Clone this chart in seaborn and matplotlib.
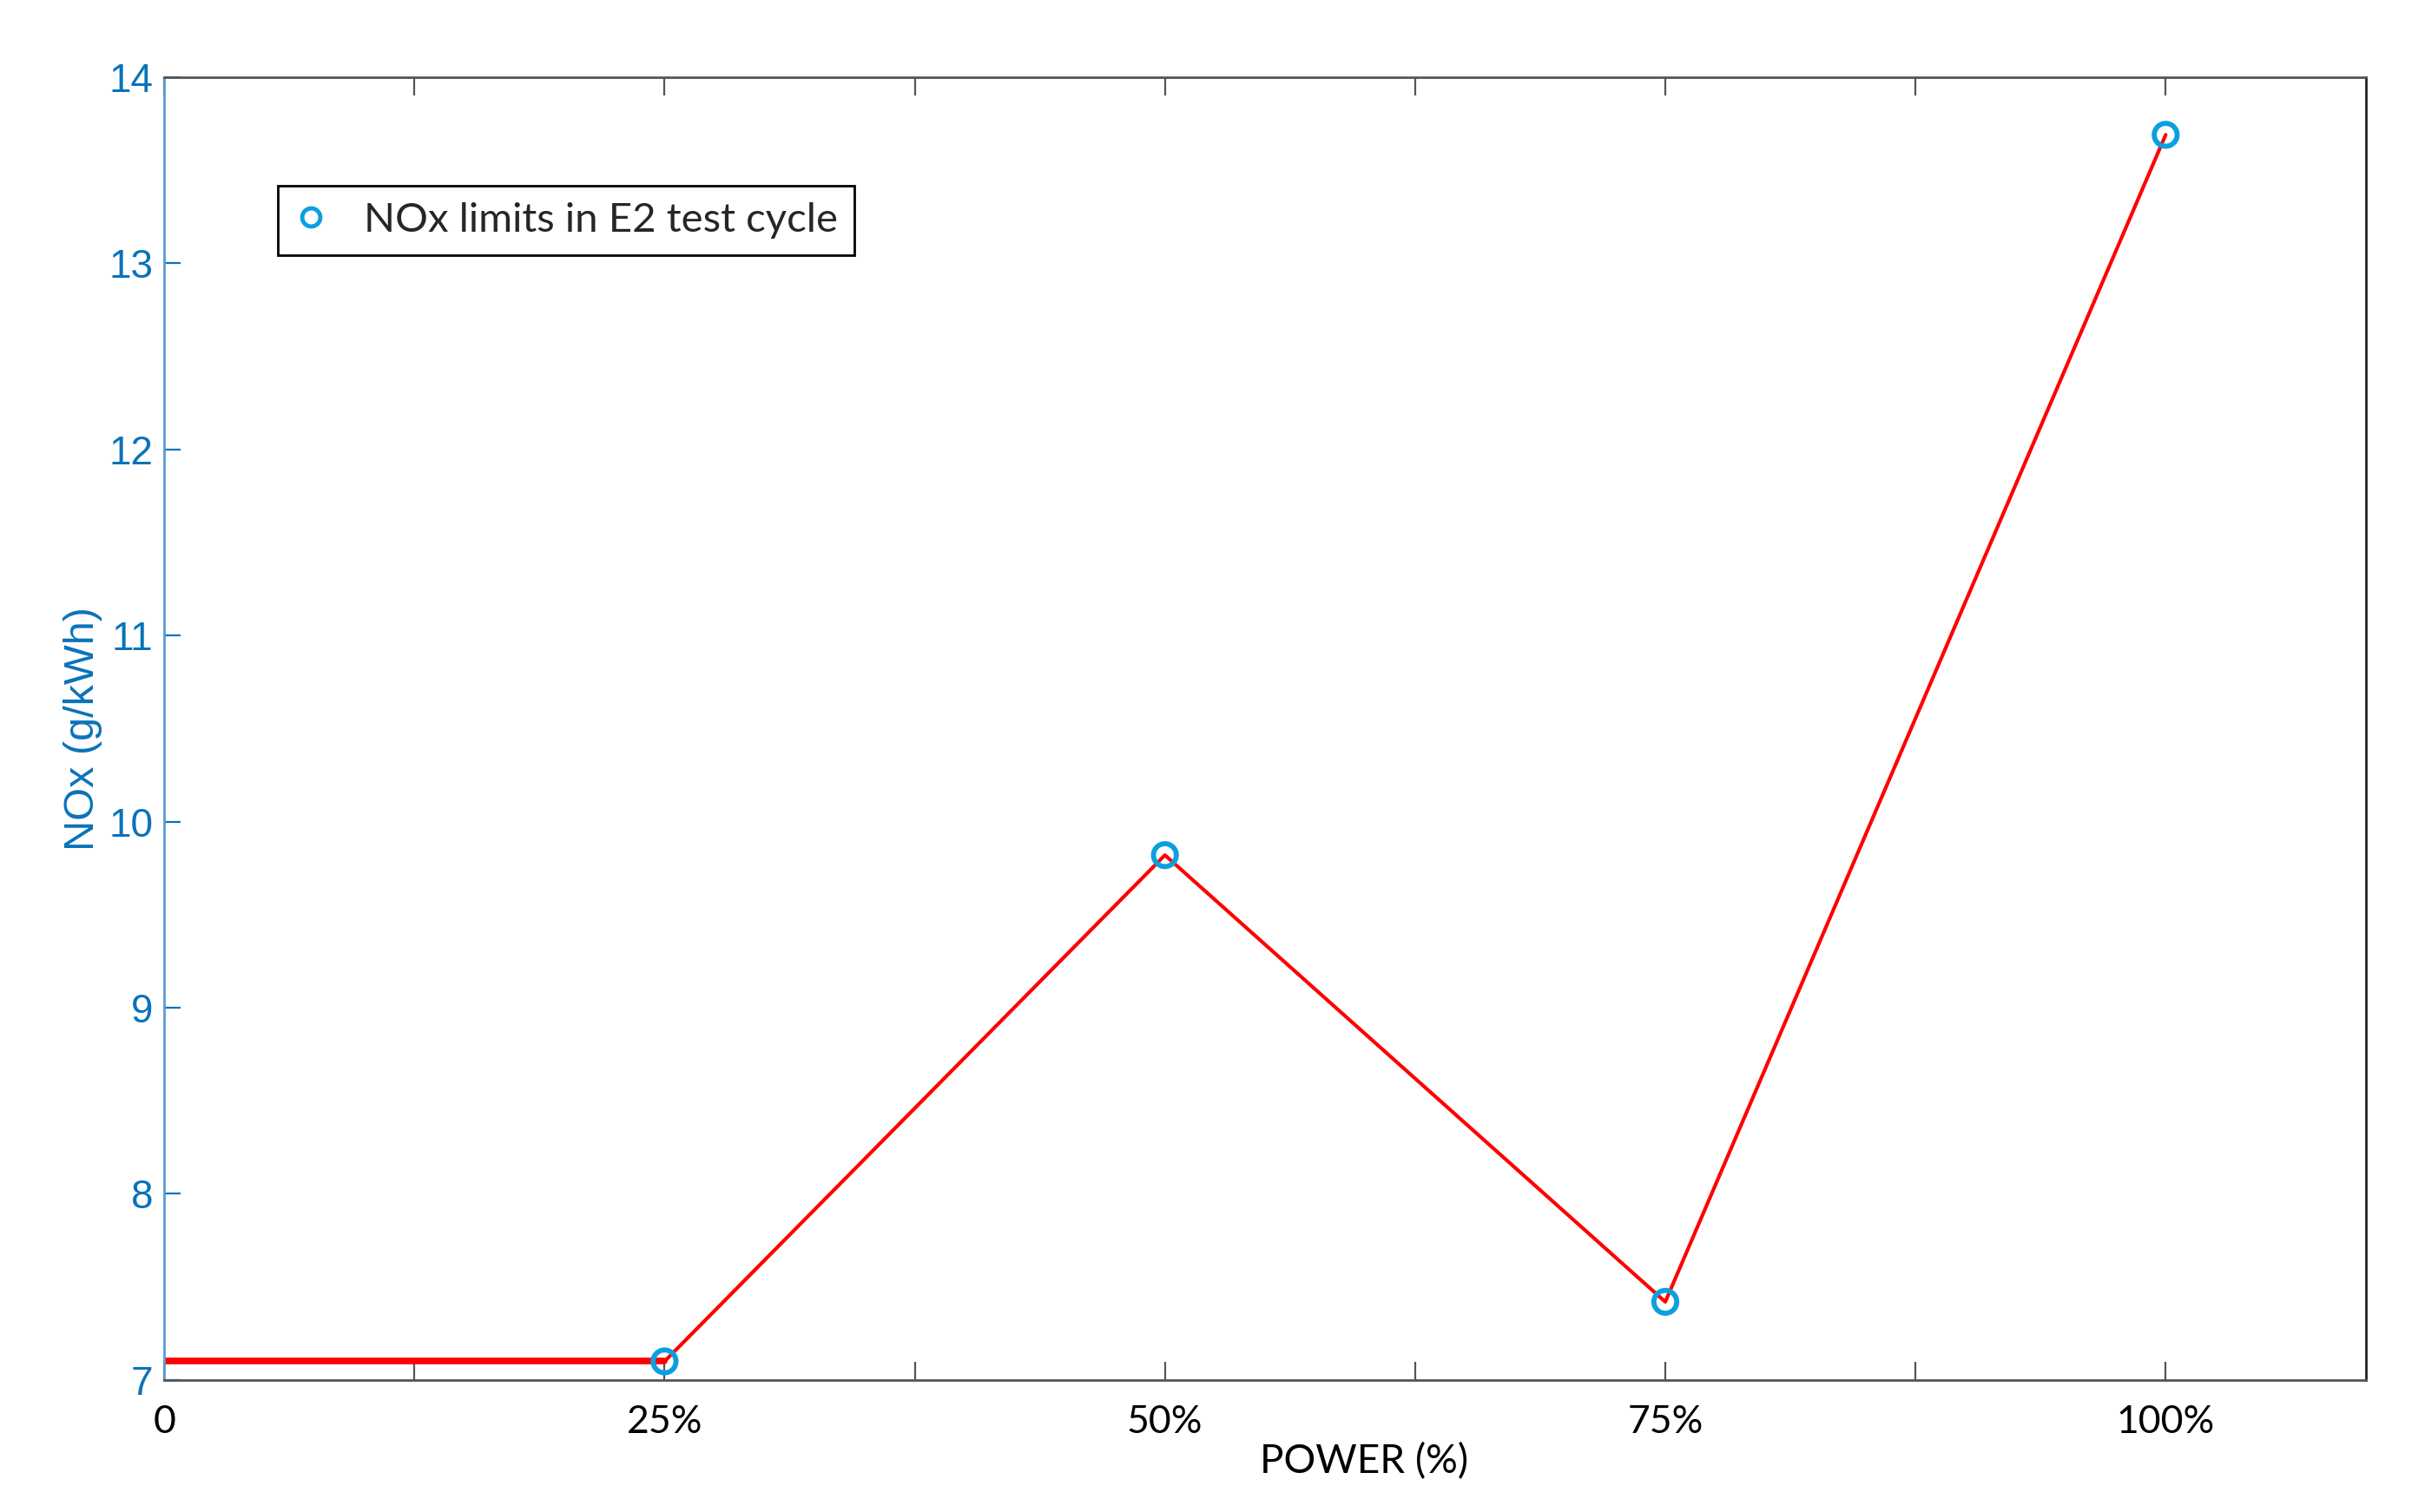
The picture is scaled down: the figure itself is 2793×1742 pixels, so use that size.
import matplotlib
matplotlib.use("Agg")
import matplotlib.pyplot as plt
from matplotlib.lines import Line2D
import seaborn as sns

# data
power_line = [0, 25, 50, 75, 100]
nox_line = [7.1, 7.1, 9.82, 7.42, 13.69]
power_pts = [25, 50, 75, 100]
nox_pts = [7.1, 9.82, 7.42, 13.69]
x_ticks = [0, 12.5, 25, 37.5, 50, 62.5, 75, 87.5, 100]
x_labels = ["0", "", "25%", "", "50%", "", "75%", "", "100%"]
y_ticks = [7, 8, 9, 10, 11, 12, 13, 14]
legend_label = "NOx limits in E2 test cycle"

sns.set_style("white")
plt.rcParams['font.family'] = ['Liberation Sans', 'DejaVu Sans']

blue_txt = "#0A72BA"
blue_spine = "#5A9BD4"
marker_blue = "#0AA0E0"
gray = "#555555"

fig = plt.figure(figsize=(27.93, 17.42), dpi=100)
ax = fig.add_axes([0.0677, 0.0873, 0.9079, 0.8617])

# base segment is drawn heavier in the original
sns.lineplot(x=power_line[:2], y=nox_line[:2], color="red", lw=5.5, ax=ax, zorder=2)
sns.lineplot(x=power_line, y=nox_line, color="red", lw=3, ax=ax, zorder=2)
sns.scatterplot(x=power_pts, y=nox_pts, marker="o", s=360, facecolors="none",
                edgecolors=marker_blue, linewidths=4.2, ax=ax, zorder=3)

ax.set_xlim(0, 110)
ax.set_ylim(7, 14)

ax.set_xticks(x_ticks)
ax.set_xticklabels(x_labels, fontfamily="Lato", fontsize=32, color="black")
ax.set_yticks(y_ticks)
ax.set_yticklabels([str(v) for v in y_ticks], fontsize=33, color=blue_txt)

ax.tick_params(axis="x", direction="in", length=15, width=1.6, color=gray,
               top=True, bottom=True, pad=20)
ax.tick_params(axis="y", direction="in", length=14, width=1.6, color=blue_txt,
               left=True, right=False, pad=9)

for side in ["top", "bottom"]:
    ax.spines[side].set_color(gray)
    ax.spines[side].set_linewidth(2)
ax.spines["left"].set_color(blue_spine)
ax.spines["left"].set_linewidth(2)
ax.spines["right"].set_color("#222222")
ax.spines["right"].set_linewidth(2)

ax.set_ylabel("NOx (g/kWh)", fontsize=35, color=blue_txt)
ax.yaxis.set_label_coords(-0.028, 0.5)
ax.set_xlabel("POWER (%)", fontfamily="Lato", fontsize=33, color="black", va="top")
ax.xaxis.set_label_coords(0.545, -0.048)

handle = Line2D([], [], ls="none", marker="o", markersize=15, mfc="none",
                mec=marker_blue, mew=3.5)
leg = ax.legend(handles=[handle], labels=[legend_label], loc="upper left",
                bbox_to_anchor=(0.0517, 0.9167), borderaxespad=0, fancybox=False,
                frameon=True, edgecolor="black", framealpha=1,
                prop={"family": "Lato", "size": 34}, handlelength=0.8,
                handletextpad=0.9, borderpad=0.4)
leg.get_frame().set_linewidth(2)

fig.savefig("out.png", dpi=100)
